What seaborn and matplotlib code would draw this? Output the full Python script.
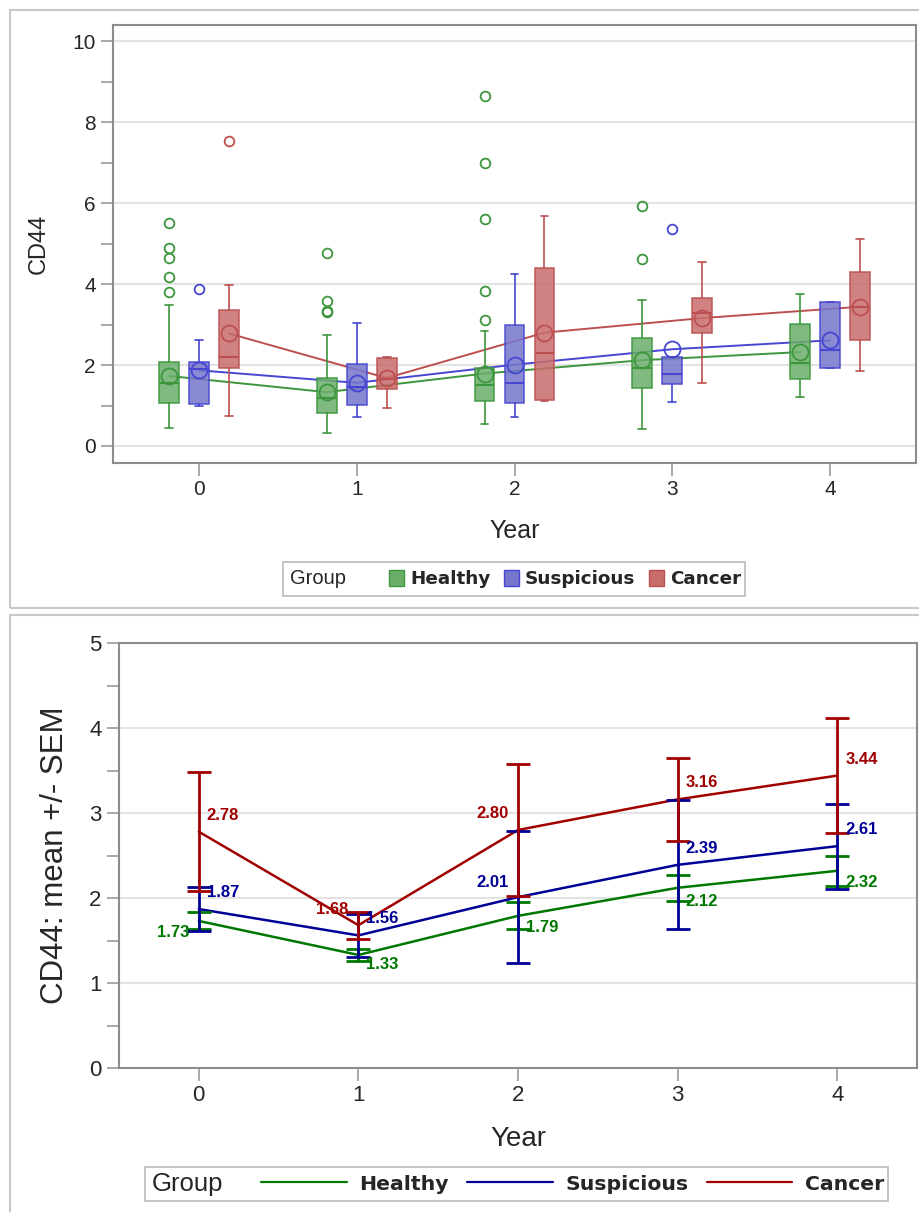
import numpy as np
import pandas as pd
import matplotlib
matplotlib.use('Agg')
from matplotlib import pyplot as plt
from matplotlib.patches import Patch, Rectangle
from matplotlib.lines import Line2D
import seaborn as sns

years = [0, 1, 2, 3, 4]
groups = ['Healthy', 'Suspicious', 'Cancer']

# box statistics
healthy_whislo = [0.44, 0.31, 0.54, 0.42, 1.22]
healthy_q1 = [1.07, 0.82, 1.11, 1.44, 1.65]
healthy_med = [1.55, 1.18, 1.51, 1.92, 2.04]
healthy_q3 = [2.08, 1.67, 1.92, 2.67, 3.01]
healthy_whishi = [3.48, 2.74, 2.85, 3.60, 3.75]
healthy_outliers = [[5.52, 4.88, 4.65, 4.17, 3.81], [4.77, 3.58, 3.33, 3.30],
                    [8.65, 7.00, 5.60, 3.83, 3.11], [5.93, 4.63], []]

suspicious_whislo = [1.00, 0.72, 0.72, 1.09, 1.92]
suspicious_q1 = [1.03, 1.01, 1.05, 1.53, 1.92]
suspicious_med = [1.90, 1.46, 1.56, 1.77, 2.37]
suspicious_q3 = [2.08, 2.02, 2.99, 2.21, 3.56]
suspicious_whishi = [2.63, 3.05, 4.26, 2.21, 3.56]
suspicious_outliers = [[3.87], [], [], [5.37], []]

cancer_whislo = [0.74, 0.95, 1.10, 1.55, 1.85]
cancer_q1 = [1.92, 1.40, 1.14, 2.78, 2.62]
cancer_med = [2.20, 1.65, 2.30, 3.29, 3.44]
cancer_q3 = [3.36, 2.18, 4.39, 3.66, 4.29]
cancer_whishi = [3.98, 2.20, 5.68, 4.55, 5.11]
cancer_outliers = [[7.54], [], [], [], []]

# means and standard errors (lower panel)
healthy_mean = [1.73, 1.33, 1.79, 2.12, 2.32]
suspicious_mean = [1.87, 1.56, 2.01, 2.39, 2.61]
cancer_mean = [2.78, 1.68, 2.80, 3.16, 3.44]

healthy_sem = [0.10, 0.07, 0.16, 0.155, 0.18]
suspicious_sem = [0.26, 0.25, 0.78, 0.76, 0.50]
cancer_sem = [0.70, 0.16, 0.78, 0.49, 0.68]

stats = {
    'Healthy': (healthy_whislo, healthy_q1, healthy_med, healthy_q3, healthy_whishi,
                healthy_outliers, healthy_mean, healthy_sem),
    'Suspicious': (suspicious_whislo, suspicious_q1, suspicious_med, suspicious_q3,
                   suspicious_whishi, suspicious_outliers, suspicious_mean, suspicious_sem),
    'Cancer': (cancer_whislo, cancer_q1, cancer_med, cancer_q3, cancer_whishi,
               cancer_outliers, cancer_mean, cancer_sem),
}

offsets = {'Healthy': -0.19, 'Suspicious': 0.0, 'Cancer': 0.19}
box_fill = {'Healthy': '#6aae6a', 'Suspicious': '#7676cc', 'Cancer': '#c86c6c'}
box_edge = {'Healthy': '#3c963c', 'Suspicious': '#4646d2', 'Cancer': '#bc5050'}
line_col = {'Healthy': '#007800', 'Suspicious': '#000096', 'Cancer': '#a00000'}

# label placement for the lower panel: (ha, dy) per year
label_pos = {
    'Healthy': [('right', -0.14), ('left', -0.11), ('left', -0.14), ('left', -0.16), ('left', -0.14)],
    'Suspicious': [('left', 0.19), ('left', 0.20), ('right', 0.17), ('left', 0.19), ('left', 0.19)],
    'Cancer': [('left', 0.19), ('right', 0.18), ('right', 0.19), ('left', 0.20), ('left', 0.19)],
}

sns.set_style('white')
plt.rcParams['font.family'] = ['Liberation Sans', 'DejaVu Sans']

W, H = 920, 1212
fig = plt.figure(figsize=(W / 100, H / 100), dpi=100)

# panel frames
for y0, y1 in [(10, 608), (615, 1216)]:
    fig.patches.append(Rectangle((10 / W, 1 - y1 / H), 915 / W, (y1 - y0) / H,
                                 transform=fig.transFigure, fill=False,
                                 ec='#c8c8c8', lw=1.5))

ax1 = fig.add_axes([113 / W, 1 - 463 / H, 803 / W, 438 / H])
ax2 = fig.add_axes([119 / W, 1 - 1068 / H, 798 / W, 425 / H])


def style_axis(ax):
    for s in ax.spines.values():
        s.set_color('#8c8c8c')
        s.set_linewidth(1.5)
    ax.tick_params(axis='both', which='both', direction='out', length=9,
                   width=1.2, color='#9a9a9a', left=True, bottom=True)
    ax.yaxis.grid(True, which='major', color='#e3e3e3', lw=1.5)
    ax.xaxis.grid(False)
    ax.set_axisbelow(True)


# ---- upper panel: box plots ----
for g in groups:
    wlo, q1, med, q3, whi, outl, mean, _ = stats[g]
    bstats = []
    for i in range(len(years)):
        bstats.append(dict(whislo=wlo[i], q1=q1[i], med=med[i], q3=q3[i],
                           whishi=whi[i], fliers=outl[i], mean=mean[i]))
    pos = [y + offsets[g] for y in years]
    sns.lineplot(x=pos, y=mean, color=box_edge[g], lw=1.4, ax=ax1, zorder=1)
    ax1.bxp(bstats, positions=pos, widths=0.125, patch_artist=True,
            showmeans=True, manage_ticks=False, capwidths=0.05, zorder=2,
            boxprops=dict(facecolor=box_fill[g], edgecolor=box_edge[g], lw=1.2, alpha=0.85),
            whiskerprops=dict(color=box_edge[g], lw=1.2),
            capprops=dict(color=box_edge[g], lw=1.2),
            medianprops=dict(color=box_edge[g], lw=1.5),
            meanprops=dict(marker='o', markerfacecolor='none', markeredgecolor=box_edge[g],
                           markersize=11.5, markeredgewidth=1.3),
            flierprops=dict(marker='o', markerfacecolor='none', markeredgecolor=box_edge[g],
                            markersize=7, markeredgewidth=1.3))

ax1.set_xlim(-0.545, 4.545)
ax1.set_ylim(-0.42, 10.4)
ax1.set_xticks(years)
ax1.set_yticks(range(0, 11, 2))
ax1.set_yticks(range(1, 10, 2), minor=True)
ax1.set_xlabel('Year', fontsize=18, labelpad=14)
ax1.set_ylabel('CD44', fontsize=17, labelpad=16)
ax1.tick_params(labelsize=15)
style_axis(ax1)

# ---- lower panel: mean +/- SEM ----
df = pd.DataFrame({
    'Year': years * 3,
    'Group': [g for g in groups for _ in years],
    'Mean': healthy_mean + suspicious_mean + cancer_mean,
    'SEM': healthy_sem + suspicious_sem + cancer_sem,
})
sns.lineplot(data=df, x='Year', y='Mean', hue='Group', palette=line_col,
             hue_order=groups, legend=False, lw=1.8, ax=ax2, zorder=2)
for g in groups:
    sub = df[df['Group'] == g]
    ax2.errorbar(sub['Year'], sub['Mean'], yerr=sub['SEM'], fmt='none',
                 ecolor=line_col[g], elinewidth=2, capsize=8.5, capthick=2, zorder=3)
    for (x, m), (ha, dy) in zip(zip(sub['Year'], sub['Mean']), label_pos[g]):
        dx = 0.05 if ha == 'left' else -0.06
        ax2.text(x + dx, m + dy, f'{m:.2f}', ha=ha, va='center', color=line_col[g],
                 fontsize=12, fontweight='bold', zorder=4)

ax2.set_xlim(-0.5, 4.5)
ax2.set_ylim(0, 5)
ax2.set_xticks(years)
ax2.set_yticks(range(0, 6))
ax2.set_yticks(np.arange(0.5, 5, 1.0), minor=True)
ax2.set_xlabel('Year', fontsize=20, labelpad=14)
ax2.set_ylabel('CD44: mean +/- SEM', fontsize=22.5, labelpad=14)
ax2.tick_params(labelsize=16)
style_axis(ax2)


# ---- legends with "Group" on the left, framed ----
def group_legend(handles, left, right, cy, title_size, prop_size, **kw):
    fig.legend(handles, groups, loc='center right',
               bbox_to_anchor=(right / W, 1 - cy / H), ncol=3, frameon=False,
               prop=dict(family='DejaVu Sans', weight='bold', size=prop_size),
               borderaxespad=0, borderpad=0.2, **kw)
    fig.text((left + 7) / W, 1 - cy / H, 'Group', ha='left', va='center',
             fontsize=title_size)
    fig.patches.append(Rectangle((left / W, 1 - (cy + 17) / H), (right - left) / W, 34 / H,
                                 transform=fig.transFigure, fill=False,
                                 ec='#c0c0c0', lw=1.3))


group_legend([Patch(facecolor=box_fill[g], edgecolor=box_edge[g]) for g in groups],
             283, 745, 579, 14.5, 13.2, handlelength=0.8, handleheight=0.95,
             handletextpad=0.35, columnspacing=0.75)
group_legend([Line2D([], [], color=line_col[g], lw=1.6) for g in groups],
             145, 888, 1184, 18.5, 14.7, handlelength=4.2, handletextpad=0.6,
             columnspacing=0.9)

fig.savefig('out.png', dpi=100)
